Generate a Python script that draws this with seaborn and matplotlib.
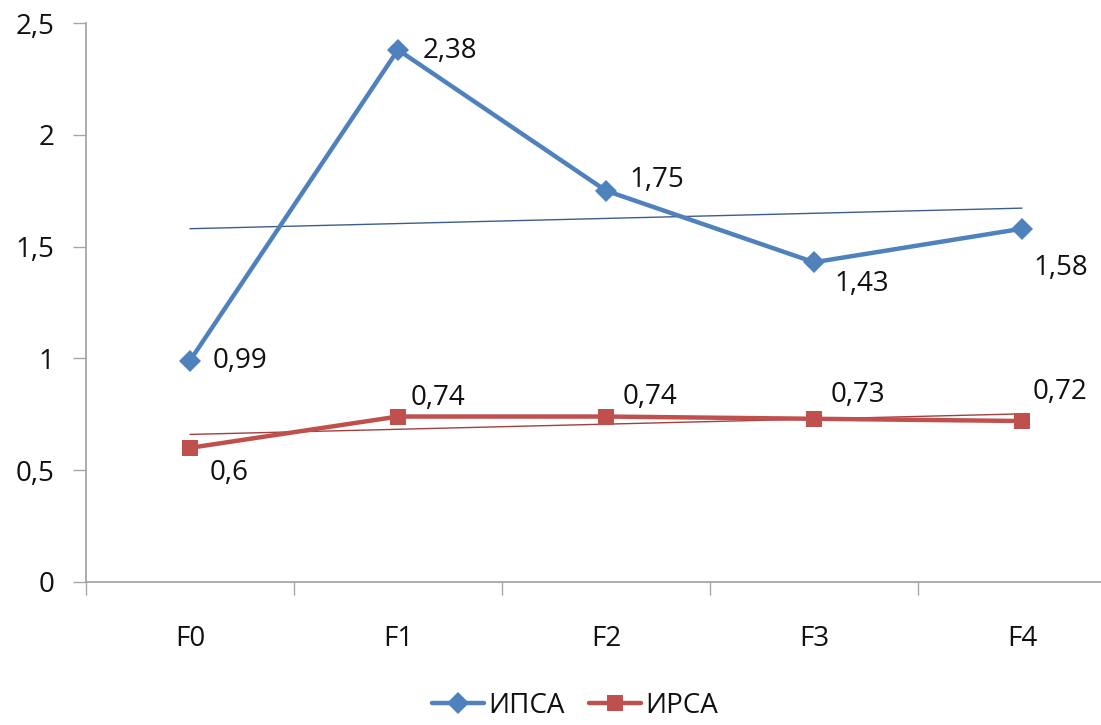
import numpy as np
import pandas as pd
import matplotlib
matplotlib.use("Agg")
import matplotlib.pyplot as plt
from matplotlib.ticker import FuncFormatter, FixedLocator
import seaborn as sns

# Data
categories = ["F0", "F1", "F2", "F3", "F4"]
ipsa = [0.99, 2.38, 1.75, 1.43, 1.58]
irsa = [0.60, 0.74, 0.74, 0.73, 0.72]
series_names = ["ИПСА", "ИРСА"]

# Label offsets in points (dx, dy)
ipsa_offsets = [(16, 0), (18, -1), (17, 8), (15, -16), (8, -28)]
irsa_offsets = [(14, -18), (9, 13), (12, 14), (12, 17), (8, 21)]

sns.set_theme(style="white")
plt.rcParams["font.family"] = ["Open Sans", "DejaVu Sans"]

blue = "#4F81BD"
red = "#C0504D"
FS = 20

fig = plt.figure(figsize=(11.01, 7.25), dpi=100)
ax = fig.add_axes([86 / 1101, 1 - 582 / 725, 1040 / 1101, (582 - 23) / 725])

x = np.arange(len(categories))
df = pd.DataFrame({
    "x": np.concatenate([x, x]),
    "value": ipsa + irsa,
    "series": [series_names[0]] * len(x) + [series_names[1]] * len(x),
})

sns.lineplot(data=df, x="x", y="value", hue="series", style="series",
             palette=[blue, red], markers=["D", "s"], dashes=False,
             markersize=11, linewidth=3.2, markeredgewidth=0, ax=ax,
             legend=True)

# Linear trend lines
for vals, tc in [(ipsa, "#3D5E8C"), (irsa, "#A0403D")]:
    k, b = np.polyfit(x, vals, 1)
    ax.plot(x, k * x + b, color=tc, linewidth=1.0, zorder=1)

# Value labels
fmt = lambda v: f"{v:g}".replace(".", ",")
for vals, offs in [(ipsa, ipsa_offsets), (irsa, irsa_offsets)]:
    for xi, v, (dx, dy) in zip(x, vals, offs):
        ax.annotate(fmt(v), (xi, v), xytext=(dx, dy), textcoords="offset points",
                    ha="left", va="center", fontsize=FS, color="#111111")

ax.set_xlim(-0.5, 4.5)
ax.set_ylim(0, 2.5)
ax.set_yticks([0, 0.5, 1, 1.5, 2, 2.5])
ax.yaxis.set_major_formatter(FuncFormatter(lambda v, p: f"{v:g}".replace(".", ",")))
ax.set_xticks(x)
ax.set_xticklabels(categories)
ax.xaxis.set_minor_locator(FixedLocator(np.arange(-0.5, 4.6, 1)))
ax.set_xlabel("")
ax.set_ylabel("")

for s in ["top", "right"]:
    ax.spines[s].set_visible(False)
for s in ["left", "bottom"]:
    ax.spines[s].set_color("#A6A6A6")
    ax.spines[s].set_linewidth(1.3)

ax.tick_params(axis="y", which="major", left=True, length=9.5, width=1,
               color="#A6A6A6", pad=13, labelsize=FS, labelcolor="#111111")
ax.tick_params(axis="x", which="major", bottom=False, length=0, pad=31,
               labelsize=FS, labelcolor="#111111")
ax.tick_params(axis="x", which="minor", bottom=True, length=9, width=1,
               color="#A6A6A6")

handles, labels = ax.get_legend_handles_labels()
leg = ax.legend(handles, labels, loc="center", bbox_to_anchor=(575 / 1101, 1 - 706 / 725),
                bbox_transform=fig.transFigure, ncol=2, frameon=False, fontsize=FS,
                handlelength=1.85, handletextpad=0.15, columnspacing=0.9)
for t in leg.get_texts():
    t.set_color("#111111")

fig.savefig("out.png", dpi=100)
